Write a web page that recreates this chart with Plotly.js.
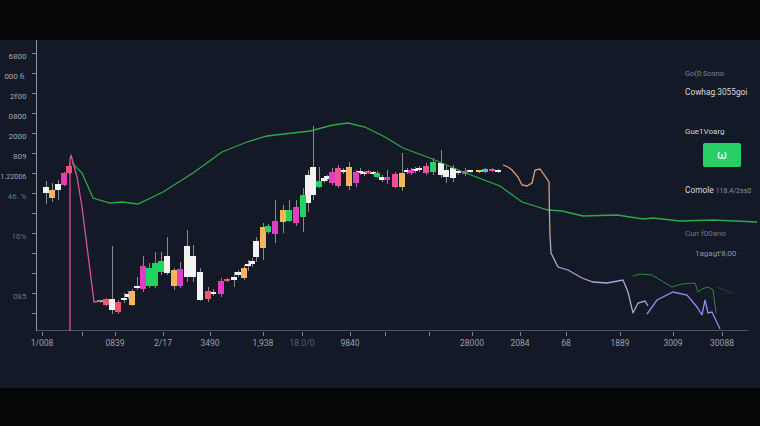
<!DOCTYPE html>
<html><head><meta charset="utf-8">
<script src="https://cdn.plot.ly/plotly-3.0.1.min.js"></script>
<style>
html,body{margin:0;padding:0;background:#050608;width:760px;height:426px;overflow:hidden}
#chart{position:absolute;left:0;top:40px;width:760px;height:348px}
</style>
</head><body><div id="chart"></div>
<script>
// ---- candle data ----
const candleX = [46,52,58,64,69,100,106,112,118,124, 128,132,137,143,149,155,161,167,174,180, 187,193,200,208,213,221,227,234,238,244, 248,252,256,263,268,275,283,289,296,303, 308,313,319,324,327,332,338,343,349,356, 360,364,368,373,377,382,387,395,402,407, 411,415,419,426,433,441,446,453,458,465, 470,479,485,492,498];
const candleOpen = [138,133,141,146,158,29,26,21,19,31, 34,26,43,42,45,45,59,58,45,45, 54,54,31,32,37,37,50,51,56,53, 65,67,74,83,99,97,109,110,108,114, 128,136,144,150,152,148,145,159,145,148, 158,157,158,157,154,151,151,144,144,159, 158,160,161,158,159,156,154,153,158,157, 159,159,159,160,159];
const candleHigh = [150,148,151,159,168,31,33,85,31,38, 40,42,54,75,68,79,79,94,63,69, 101,86,63,44,42,53,53,59,61,66, 71,73,94,108,107,131,126,131,131,143, 161,205,164,155,156,163,166,163,169,161, 163,160,161,160,160,156,161,159,178,163, 163,164,165,168,173,181,165,166,161,163, 161,161,163,163,162];
const candleLow = [127,129,131,145,156,28,25,17,17,28, 32,25,41,39,43,43,56,56,41,43, 49,49,30,29,35,34,49,44,54,51, 60,64,69,71,97,88,98,109,105,99, 119,131,143,148,150,146,143,157,141,144, 156,155,157,156,153,149,147,143,140,157, 156,158,159,156,156,153,148,149,156,155, 158,158,158,159,158];
const candleClose = [144,141,147,158,165,30,32,32,29,33, 37,40,45,65,63,68,70,75,61,62, 85,75,59,40,39,50,52,54,59,63, 67,70,90,104,105,110,121,121,124,136, 156,164,150,153,155,159,163,161,164,159, 160,159,160,159,158,154,154,157,158,161, 161,162,163,165,169,168,161,163,159,160, 160,160,162,162,161];
const candleKind = ["W","O","W","M","R","G","R","W","R","W", "W","O","W","M","Gr","Gr","Gr","W","O","M", "W","W","W","R","W","M","R","W","W","O", "W","W","W","O","Gr","M","O","Gr","M","Gr", "W","W","Gr","W","W","M","P","W","O","M", "W","W","R","W","Gr","W","M","P","O","W", "M","W","W","P","Gr","W","W","W","W","M", "W","Y","C","P","W"];

// ---- line data ----
const maX = [72,82,93,110,122,138,163,193,222,247,267,290,310,333,348,365,385,403,430,463,500,522,548,562,583,617,643,653,680,713,757];
const maY = [168,158,133,128,129,127,139,158,179,189,195,198,200,206,208,204,194,183,173,159,145,129,121,120,115,116,112,113,110,111,109];
const pinkX = [70,70,71,77,82,87,91,94,101];
const pinkY = [0,171,176,154,124,84,51,29,30];
const orangeX = [503,508,512,518,522,527,532,535,540,547,549,549.5,550];
const orangeY = [166,164,161,154,146,145,148,161,162,151,149,116,96];
const lavX1 = [550,551,558,568,582,593,607,623,628,633,638,645,648];
const lavY1 = [96,78,64,61,53,49,48,51,39,18,28,30,25];
const lavX2 = [647,657,673,687,697,702,705,708,712,720];
const lavY2 = [17,31,39,36,24,16,31,18,19,2];
const noiseX = [633,640,652,663,672,682,695,698,702,708,713,716];
const noiseY = [55,57,56,49,44,47,48,39,42,44,41,18];
const faintX = [716,733];
const faintY = [44,38];

// ---- ticks ----
const xTickVals = [42,82,115,163,210,263,302,350,385,429,472,520,566,620,673,722];
const xTickText = ["1/008","","0839","2/17","3490","1,938","<span style='color:#5a606d'>18.0/0</span>","9840","","","28000","2084","68","1889","3009","30088"];
const yTickVals = [18,38,58,78,98,118,138,158,178,198,218,238,258,278];
const yTickText = ["","<span style='color:#6d7380'>085</span>","","","<span style='color:#6d7380'>10%</span>","","<span style='color:#6d7380'>46. %</span>","<span style='font-size:7.2px'>1.22006</span>","809","2000","0800","2f00","000 fi.","6800"];

const kindColor = {W:"#f3f3f3",O:"#f5b55a",M:"#e23cc0",P:"#f0509a",R:"#f2546f",Gr:"#1fd463",G:"#a9a9a9",Y:"#e4d13c",C:"#3fc7c9"};

const traces = [];
// wicks as thin bars
traces.push({type:'bar', x:candleX, base:candleLow, y:candleHigh.map((h,i)=>h-candleLow[i]), width:1,
  marker:{color:'#8a8a8a', line:{width:0}}, hoverinfo:'skip'});
// bodies grouped by kind
Object.keys(kindColor).forEach(k=>{
  const xs=[],bs=[],hs=[];
  candleX.forEach((x,i)=>{
    if(candleKind[i]!==k) return;
    const lo=Math.min(candleOpen[i],candleClose[i]);
    const hi=Math.max(candleOpen[i],candleClose[i]);
    xs.push(x); bs.push(lo); hs.push(Math.max(hi-lo,1.6));
  });
  if(xs.length) traces.push({type:'bar', x:xs, base:bs, y:hs, width:5.4,
    marker:{color:kindColor[k], line:{width:0}}, hoverinfo:'skip'});
});
traces.push({type:'scatter', mode:'lines', x:maX, y:maY, line:{color:'#2fa84a', width:1.3}, hoverinfo:'skip'});
traces.push({type:'scatter', mode:'lines', x:pinkX, y:pinkY, line:{color:'#d6568c', width:1.3}, hoverinfo:'skip'});
traces.push({type:'scatter', mode:'lines', x:orangeX, y:orangeY, line:{color:'#d99f78', width:1.3}, hoverinfo:'skip'});
traces.push({type:'scatter', mode:'lines', x:lavX1, y:lavY1, line:{color:'#a9a7d8', width:1.3}, hoverinfo:'skip'});
traces.push({type:'scatter', mode:'lines', x:lavX2, y:lavY2, line:{color:'#8f8cf0', width:1.3}, hoverinfo:'skip'});
traces.push({type:'scatter', mode:'lines', x:noiseX, y:noiseY, line:{color:'#2a8a38', width:1}, hoverinfo:'skip'});
traces.push({type:'scatter', mode:'lines', x:faintX, y:faintY, line:{color:'#1f4a2a', width:1}, hoverinfo:'skip'});

const ann = (x,y,text,size,color,anchor)=>({x:x,y:y,xref:'x',yref:'y',text:text,showarrow:false,
  xanchor:anchor||'left',yanchor:'middle',font:{size:size,color:color}});

const layout = {
  width:760, height:348,
  margin:{l:37,r:3,t:0,b:57},
  paper_bgcolor:'#131927', plot_bgcolor:'#131927',
  showlegend:false, barmode:'overlay', bargap:0,
  font:{family:'Roboto, sans-serif', color:'#9aa0ad', size:8.5},
  xaxis:{range:[37,757], tickmode:'array', tickvals:xTickVals, ticktext:xTickText,
    ticks:'outside', ticklen:4, tickcolor:'#7d8391', showgrid:false, zeroline:false, showline:false,
    tickfont:{size:8.5,color:'#9aa0ad'}, fixedrange:true},
  yaxis:{range:[0,291], tickmode:'array', tickvals:yTickVals, ticktext:yTickText,
    ticks:'outside', ticklen:4, tickcolor:'#7d8391', showline:true, linecolor:'#8d93a0', linewidth:1,
    showgrid:true, gridcolor:'rgba(255,255,255,0.025)', zeroline:false,
    tickfont:{size:8,color:'#a3a8b3'}, ticklabelstandoff:4, ticklabelshift:3, fixedrange:true},
  shapes:[
    {type:'line', xref:'x', yref:'y', x0:37, x1:748, y0:0, y1:0, line:{color:'#8d93a0', width:1}},
    {type:'path', xref:'x', yref:'y', path:'M705,164 L739,164 Q741,164 741,166 L741,186 Q741,188 739,188 L705,188 Q703,188 703,186 L703,166 Q703,164 705,164 Z',
      fillcolor:'#27cf67', line:{width:0}}
  ],
  annotations:[
    ann(683,258,'Go(0:Sosno',7.5,'#7b818e'),
    ann(683,239,'Cowhag.3055goi',8.3,'#d6d9df'),
    ann(683,200,'Gue1Voarg',8,'#cfd3d9'),
    ann(722,176,'ω',12,'#ffffff','center'),
    ann(683,141,'Comole <span style="color:#8a909c;font-size:7px">118.4/2ss0</span>',8.3,'#d6d9df'),
    ann(683,98,'Cun f00ano',8,'#6f7583'),
    ann(693,78,"1agagt'8,00",8,'#8e94a0')
  ]
};
Plotly.newPlot('chart', traces, layout, {staticPlot:true, displayModeBar:false});
</script>
</body></html>
